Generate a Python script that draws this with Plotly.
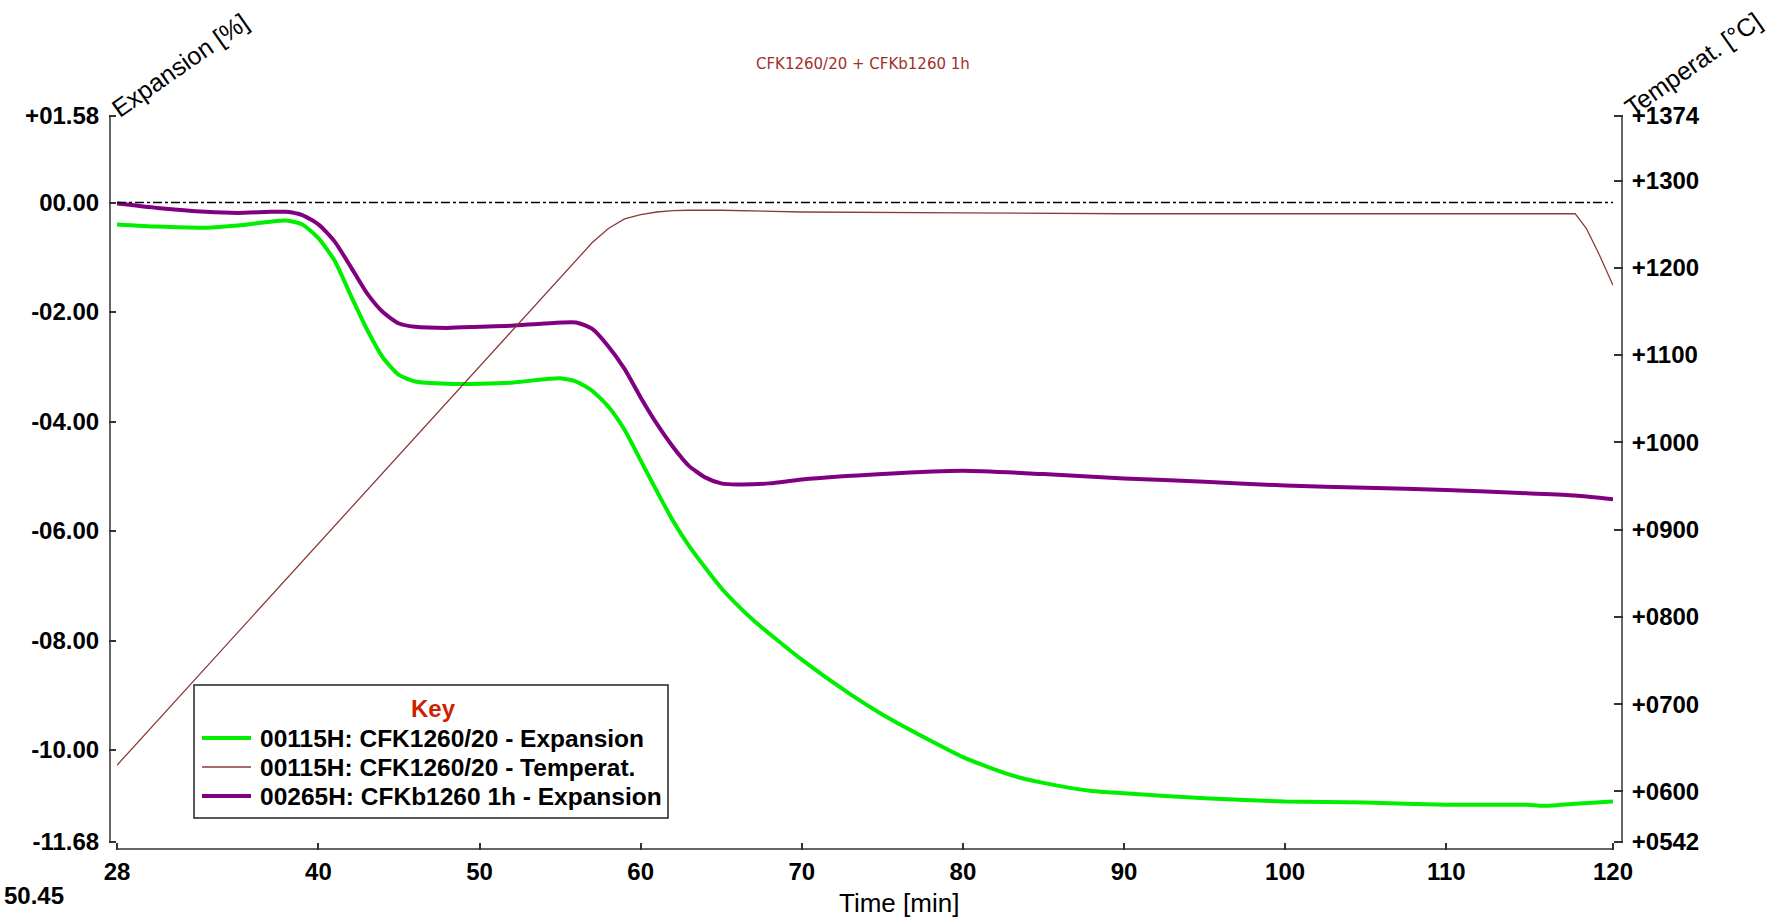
import plotly.graph_objects as go

# ---------------- data ----------------
time_green = [27.5, 30, 33, 35, 37, 38, 39, 40, 41, 42, 43, 44, 45, 46, 48, 50, 52, 54, 55, 56, 57, 58, 59,
              60, 61, 62, 63, 65, 67, 70, 73, 75, 78, 80, 83, 85, 88, 90, 95, 100, 105, 110, 115, 116, 118, 120.35]
exp_green = [-0.40, -0.44, -0.46, -0.42, -0.35, -0.33, -0.40, -0.65, -1.06, -1.69, -2.31, -2.83, -3.15, -3.27,
             -3.31, -3.31, -3.29, -3.23, -3.21, -3.27, -3.44, -3.73, -4.15, -4.71, -5.27, -5.81, -6.27, -7.04,
             -7.63, -8.35, -8.98, -9.35, -9.83, -10.13, -10.46, -10.60, -10.75, -10.79, -10.88, -10.94, -10.96,
             -11.00, -11.00, -11.02, -10.98, -10.94]

time_purple = [27.5, 30, 33, 35, 37, 38, 39, 40, 41, 42, 43, 44, 45, 46, 48, 50, 52, 54, 56, 57, 58, 59, 60,
               61, 62, 63, 64, 65, 66, 68, 70, 75, 80, 85, 90, 95, 100, 105, 110, 115, 118, 120.35]
exp_purple = [-0.02, -0.10, -0.17, -0.19, -0.17, -0.17, -0.23, -0.40, -0.71, -1.17, -1.65, -2.00, -2.21, -2.27,
              -2.29, -2.27, -2.25, -2.21, -2.19, -2.31, -2.63, -3.04, -3.56, -4.04, -4.46, -4.81, -5.02, -5.13,
              -5.15, -5.13, -5.06, -4.96, -4.90, -4.96, -5.04, -5.10, -5.17, -5.21, -5.25, -5.31, -5.35, -5.42]

time_temp = [27.5, 40, 50, 57, 58, 58.5, 59, 60, 61, 62, 63, 65, 70, 80, 90, 100, 110, 118, 118.7, 119.5, 120.35]
temp = [630, 884, 1087, 1229, 1245, 1251, 1256, 1261, 1264, 1265.5, 1266, 1266, 1264, 1263, 1262, 1262, 1262,
        1262, 1245, 1215, 1180]

x_tickvals = [27.5, 40, 50, 60, 70, 80, 90, 100, 110, 120.35]
x_ticktext = ["28", "40", "50", "60", "70", "80", "90", "100", "110", "120"]
y_tickvals = [1.58, 0, -2, -4, -6, -8, -10, -11.68]
y_ticktext = ["+01.58", "00.00", "-02.00", "-04.00", "-06.00", "-08.00", "-10.00", "-11.68"]
y2_tickvals = [1374, 1300, 1200, 1100, 1000, 900, 800, 700, 600, 542]
y2_ticktext = ["+1374", "+1300", "+1200", "+1100", "+1000", "+0900", "+0800", "+0700", "+0600", "+0542"]

names = ["00115H: CFK1260/20 - Expansion", "00115H: CFK1260/20 - Temperat.", "00265H: CFKb1260 1h - Expansion"]
colors = ["#00ee00", "#8b3a3a", "#800080"]
widths = [4, 1.3, 4]

# ---------------- layout geometry ----------------
W, H = 1778, 919
L, R, T, B = 117, 1613, 116, 842
PW, PH = R - L, B - T


def px(x):
    return (x - L) / PW


def py(y):
    return (B - y) / PH


FONT = "Arial, Liberation Sans, sans-serif"
AX = "#333333"

fig = go.Figure()
fig.add_trace(go.Scatter(x=time_green, y=exp_green, mode="lines", name=names[0],
                         line=dict(color=colors[0], width=widths[0], shape="spline", smoothing=0.6),
                         showlegend=False))
fig.add_trace(go.Scatter(x=time_temp, y=temp, mode="lines", name=names[1], yaxis="y2",
                         line=dict(color=colors[1], width=widths[1]), showlegend=False))
fig.add_trace(go.Scatter(x=time_purple, y=exp_purple, mode="lines", name=names[2],
                         line=dict(color=colors[2], width=widths[2], shape="spline", smoothing=0.6),
                         showlegend=False))

tickfont = dict(family=FONT, size=24, color="black", weight="bold")

fig.update_layout(
    width=W, height=H,
    margin=dict(l=L, r=W - R, t=T, b=H - B, pad=0),
    paper_bgcolor="white", plot_bgcolor="white",
    xaxis=dict(range=[27.5, 120.35], tickvals=x_tickvals, ticktext=x_ticktext, showgrid=False,
               zeroline=False, showline=False, ticks="outside", ticklen=7, tickwidth=1.5, tickcolor=AX,
               tickfont=tickfont, ticklabelstandoff=1),
    yaxis=dict(range=[-11.68, 1.58], tickvals=y_tickvals, ticktext=y_ticktext, showgrid=False,
               zeroline=False, showline=False, ticks="outside", ticklen=7, tickwidth=1.5, tickcolor=AX,
               tickfont=tickfont, ticklabelstandoff=5),
    yaxis2=dict(range=[542, 1374], tickvals=y2_tickvals, ticktext=y2_ticktext, overlaying="y", side="right",
                showgrid=False, zeroline=False, showline=False, ticks="outside", ticklen=9, tickwidth=1.5,
                tickcolor=AX, tickfont=tickfont, ticklabelstandoff=4),
)

shapes = [
    # offset axis lines
    dict(type="line", xref="paper", yref="paper", x0=px(110), x1=px(110), y0=0, y1=1,
         line=dict(color=AX, width=1.5)),
    dict(type="line", xref="paper", yref="paper", x0=0, x1=1, y0=py(849), y1=py(849),
         line=dict(color=AX, width=1.5)),
    dict(type="line", xref="paper", yref="paper", x0=px(1622), x1=px(1622), y0=0, y1=1,
         line=dict(color=AX, width=1.5)),
    # zero reference line
    dict(type="line", xref="paper", yref="y", x0=0, x1=1, y0=0, y1=0,
         line=dict(color="black", width=1.3, dash="dashdot")),
    # key box
    dict(type="rect", xref="paper", yref="paper", x0=px(194), x1=px(668), y0=py(818), y1=py(685),
         fillcolor="white", line=dict(color="#222222", width=1.5), layer="above"),
]
row_y = [738, 767, 796]
for i in range(3):
    shapes.append(dict(type="line", xref="paper", yref="paper", x0=px(202), x1=px(251),
                       y0=py(row_y[i]), y1=py(row_y[i]),
                       line=dict(color=colors[i], width=widths[i]), layer="above"))
fig.update_layout(shapes=shapes)

ann = [
    dict(text="Key", x=px(433), y=py(708), xref="paper", yref="paper", showarrow=False,
         font=dict(family=FONT, size=24, color="#cc2200", weight="bold"), xanchor="center", yanchor="middle"),
    dict(text="CFK1260/20 + CFKb1260 1h", x=px(863), y=py(64), xref="paper", yref="paper", showarrow=False,
         font=dict(family="DejaVu Sans, Verdana, sans-serif", size=15, color="#a0302a"),
         xanchor="center", yanchor="middle"),
    dict(text="Expansion [%]", x=px(180), y=py(65), xref="paper", yref="paper", showarrow=False,
         textangle=-35, font=dict(family=FONT, size=25, color="black"), xanchor="center", yanchor="middle"),
    dict(text="Temperat. [°C]", x=px(1693), y=py(64), xref="paper", yref="paper", showarrow=False,
         textangle=-35, font=dict(family=FONT, size=25, color="black"), xanchor="center", yanchor="middle"),
    dict(text="Time [min]", x=px(899), y=py(903), xref="paper", yref="paper", showarrow=False,
         font=dict(family=FONT, size=26, color="black"), xanchor="center", yanchor="middle"),
    dict(text="50.45", x=px(66), y=py(895), xref="paper", yref="paper", showarrow=False,
         font=dict(family=FONT, size=24, color="black", weight="bold"), xanchor="right", yanchor="middle"),
]
for i in range(3):
    ann.append(dict(text=names[i], x=px(258), y=py(row_y[i]), xref="paper", yref="paper", showarrow=False,
                    font=dict(family=FONT, size=24.5, color="black", weight="bold"),
                    xanchor="left", yanchor="middle"))
fig.update_layout(annotations=ann)

fig.write_html("out.html")
